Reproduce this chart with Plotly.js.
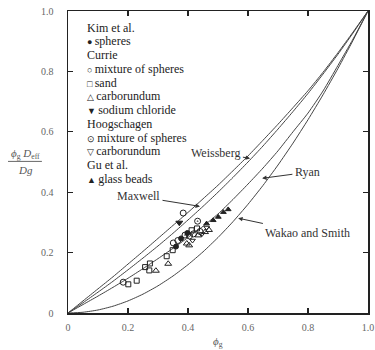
<!DOCTYPE html>
<html>
<head>
<meta charset="utf-8">
<script src="https://cdn.plot.ly/plotly-3.0.1.min.js"></script>
<style>html,body{margin:0;padding:0;background:#fff;}#chart{width:375px;height:350px;}</style>
</head>
<body>
<div id="chart"></div>
<script>
// ---- curve data ----
var phi = [0,0.05,0.1,0.15,0.2,0.25,0.3,0.35,0.4,0.45,0.5,0.55,0.6,0.65,0.7,0.75,0.8,0.85,0.9,0.95,1];
var topCurve = [0,0.04,0.08,0.12,0.162,0.204,0.247,0.29,0.333,0.378,0.423,0.471,0.52,0.572,0.625,0.68,0.736,0.797,0.862,0.93,1];
var maxwellCurve = [0,0.034,0.069,0.105,0.143,0.182,0.222,0.264,0.308,0.353,0.4,0.449,0.5,0.553,0.609,0.667,0.727,0.791,0.857,0.927,1];
var ryanCurve = [0,0.028,0.056,0.085,0.115,0.147,0.18,0.214,0.25,0.287,0.328,0.376,0.427,0.48,0.537,0.6,0.662,0.735,0.82,0.907,1];
var wakaoCurve = [0,0.0025,0.01,0.0225,0.04,0.0625,0.09,0.1225,0.16,0.2025,0.25,0.3025,0.36,0.4225,0.49,0.5625,0.64,0.7225,0.81,0.9025,1];

// ---- experimental points ----
var kimX = [0.36,0.377,0.398];
var kimY = [0.22,0.247,0.265];
var currieMixX = [0.184,0.351,0.366,0.384,0.405,0.418,0.44];
var currieMixY = [0.102,0.232,0.24,0.331,0.255,0.262,0.27];
var sandX = [0.201,0.229,0.257,0.271,0.273,0.329,0.349,0.412,0.43];
var sandY = [0.095,0.107,0.152,0.141,0.164,0.188,0.208,0.274,0.28];
var carboX = [0.293,0.334,0.396,0.404,0.434,0.457,0.47];
var carboY = [0.14,0.163,0.23,0.224,0.257,0.268,0.275];
var naclX = [0.371];
var naclY = [0.299];
var hoogMixX = [0.432,0.39];
var hoogMixY = [0.304,0.258];
var hoogCarboX = [0.415,0.447,0.462];
var hoogCarboY = [0.24,0.262,0.283];
var glassX = [0.462,0.484,0.501,0.518,0.534];
var glassY = [0.296,0.307,0.318,0.334,0.343];

// ---- ticks & labels ----
var tickVals = [0,0.2,0.4,0.6,0.8,1.0];
var tickText = ["0","0.2","0.4","0.6","0.8","1.0"];
var legendSymbols = ["","●","","○","□","△","▼","","⊙","▽","","▲"];
var legendTexts = ["Kim et al.","spheres","Currie","mixture of spheres","sand","carborundum","sodium chloride",
  "Hoogschagen","mixture of spheres","carborundum","Gu et al.","glass beads"];
var curveLabels = ["Weissberg","Maxwell","Ryan","Wakao and Smith"];

var serif = "Liberation Serif";
var lineStyle = {color:'#444', width:1, shape:'spline', smoothing:0.6};

function curve(y){ return {x:phi, y:y, mode:'lines', line:lineStyle, hoverinfo:'skip'}; }
function pts(x,y,sym,size){ return {x:x, y:y, mode:'markers', marker:{symbol:sym, size:size||5, color:'#222', line:{color:'#222', width:1}}}; }

var traces = [
  curve(topCurve), curve(maxwellCurve), curve(ryanCurve), curve(wakaoCurve),
  pts(kimX,kimY,'circle',5),
  pts(currieMixX,currieMixY,'circle-open',6),
  pts(sandX,sandY,'square-open',5),
  pts(carboX,carboY,'triangle-up-open',6),
  pts(naclX,naclY,'triangle-down',6),
  pts(hoogMixX,hoogMixY,'circle-open-dot',6),
  pts(hoogCarboX,hoogCarboY,'triangle-down-open',5),
  pts(glassX,glassY,'triangle-up',5)
];

var annotations = [];
// legend text lines
for (var i=0;i<legendTexts.length;i++){
  var py = 26.7 + 13.8*i;
  var txt = legendSymbols[i] ? ('<span style="font-size:9px">' + legendSymbols[i] + ' </span>' + legendTexts[i]) : legendTexts[i];
  annotations.push({xref:'paper', yref:'paper', x:0.055, y:(313-py)/303, xanchor:'left', yanchor:'middle',
    text:txt, showarrow:false, font:{family:serif, size:12, color:'#222'}});
}
// curve labels with arrows: [head x, head y, label x, label y]
var lblArrows = [[0.607,0.512,0.493,0.531],[0.44,0.353,0.235,0.386],[0.647,0.446,0.798,0.466],[0.567,0.314,0.798,0.265]];
for (var j=0;j<curveLabels.length;j++){
  var a = lblArrows[j];
  annotations.push({xref:'x', yref:'y', axref:'x', ayref:'y', x:a[0], y:a[1], ax:a[2], ay:a[3],
    text:curveLabels[j], showarrow:true, arrowhead:2, arrowsize:0.9, arrowwidth:1, arrowcolor:'#333',
    borderpad:2, font:{family:serif, size:12, color:'#333'}});
}
// axis titles
annotations.push({xref:'paper', yref:'paper', x:0.5, y:-0.097, xanchor:'center', yanchor:'middle',
  text:'<i>ϕ</i><sub>g</sub>', showarrow:false, font:{family:serif, size:11, color:'#555'}});
annotations.push({xref:'paper', yref:'paper', x:-0.143, y:0.528, xanchor:'center', yanchor:'middle',
  text:'<i>ϕ</i><sub>g</sub> <i>D</i><sub>eff</sub>', showarrow:false, font:{family:serif, size:11, color:'#555'}});
annotations.push({xref:'paper', yref:'paper', x:-0.143, y:0.475, xanchor:'center', yanchor:'middle',
  text:'<i>Dg</i>', showarrow:false, font:{family:serif, size:11, color:'#555'}});

var axisCommon = {range:[0,1], tickvals:tickVals, ticktext:tickText, ticks:'inside', ticklen:5, tickwidth:1.2,
  tickcolor:'#222', mirror:'ticks', showline:true, linecolor:'#222', linewidth:1.5, showgrid:false, zeroline:false,
  tickfont:{family:serif, size:10, color:'#666'}, fixedrange:true};

var layout = {
  width:375, height:350,
  margin:{l:68, r:7, t:11, b:37},
  paper_bgcolor:'#fff', plot_bgcolor:'#fff',
  showlegend:false,
  font:{family:serif},
  xaxis: Object.assign({}, axisCommon, {ticklabelstandoff:4}),
  yaxis: Object.assign({}, axisCommon, {ticklabelstandoff:11}),
  annotations: annotations,
  shapes:[{type:'line', xref:'paper', yref:'paper', x0:-0.2, x1:-0.087, y0:0.502, y1:0.502, line:{color:'#666', width:1}}]
};

Plotly.newPlot('chart', traces, layout, {displayModeBar:false, staticPlot:true});
</script>
</body>
</html>
